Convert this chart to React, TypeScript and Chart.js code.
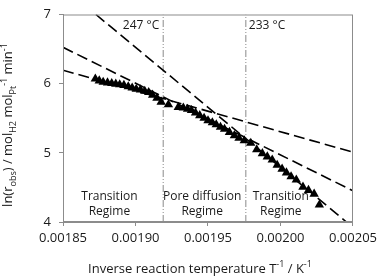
import React, { useEffect, useRef } from 'react';
import { Chart, registerables } from 'chart.js';

Chart.register(...registerables);

// Measured data: inverse temperature (1/K) and ln(r_obs)
const invT = [
  0.0018723, 0.001875, 0.0018777, 0.0018807, 0.0018836, 0.0018864, 0.0018891, 0.001892,
  0.001895, 0.0018977, 0.0019005, 0.0019034, 0.0019064, 0.0019091, 0.0019118, 0.0019148,
  0.0019177, 0.0019227, 0.0019295, 0.001933, 0.0019359, 0.0019386, 0.0019414, 0.0019443,
  0.0019473, 0.00195, 0.001953, 0.0019557, 0.0019586, 0.0019614, 0.0019648, 0.0019682,
  0.0019714, 0.001975, 0.0019795, 0.0019836, 0.0019875, 0.0019909, 0.0019943, 0.0019977,
  0.0020011, 0.0020041, 0.0020073, 0.0020109, 0.0020155, 0.0020193, 0.0020232, 0.0020268,
];
const lnRate = [
  6.07, 6.042, 6.023, 6.014, 6.005, 5.995, 5.986, 5.977,
  5.958, 5.94, 5.921, 5.912, 5.893, 5.874, 5.837, 5.791,
  5.735, 5.698, 5.66, 5.651, 5.633, 5.614, 5.577, 5.54,
  5.502, 5.465, 5.437, 5.409, 5.372, 5.344, 5.298, 5.251,
  5.214, 5.177, 5.14, 5.047, 4.991, 4.944, 4.898, 4.823,
  4.767, 4.712, 4.656, 4.609, 4.507, 4.46, 4.405, 4.247,
];

// Fitted Arrhenius lines (dashed)
const fitSteepX = [0.0018727, 0.0020455];
const fitSteepY = [7, 4];
const fitMidX = [0.00185, 0.00205];
const fitMidY = [6.526, 4.451];
const fitFlatX = [0.00185, 0.00205];
const fitFlatY = [6.195, 5.009];

// Regime boundaries
const boundaryX = [0.0019191, 0.0019761];
const boundaryLabels = ['247 °C', '233 °C'];

// Regime labels
const regimeLines = [
  ['Transition', 'Regime'],
  ['Pore diffusion', 'Regime'],
  ['Transition', 'Regime'],
];
const regimeX = [0.001882, 0.001946, 0.0020002];

const xMin = 0.00185;
const xMax = 0.00205;
const xStep = 0.00005;
const yMin = 4;
const yMax = 7;

const FONT = '"Open Sans", "Liberation Sans", sans-serif';
const TEXT = '#1a1a1a';
const FRAME = '#8c8c8c';

type Seg = { t: string; k?: 'sub' | 'sup' };

function drawRich(ctx: CanvasRenderingContext2D, segs: Seg[], size: number, small: number) {
  let total = 0;
  const widths: number[] = [];
  for (const s of segs) {
    ctx.font = `${s.k ? small : size}px ${FONT}`;
    const w = ctx.measureText(s.t).width;
    widths.push(w);
    total += w;
  }
  let x = -total / 2;
  segs.forEach((s, i) => {
    ctx.font = `${s.k ? small : size}px ${FONT}`;
    const dy = s.k === 'sub' ? size * 0.3 : s.k === 'sup' ? -size * 0.42 : 0;
    ctx.fillText(s.t, x, dy);
    x += widths[i];
  });
}

const yTitle: Seg[] = [
  { t: 'ln(r' }, { t: 'obs', k: 'sub' }, { t: ') / mol' }, { t: 'H2', k: 'sub' },
  { t: ' mol' }, { t: 'Pt', k: 'sub' }, { t: '-1', k: 'sup' }, { t: ' min' }, { t: '-1', k: 'sup' },
];
const xTitle: Seg[] = [
  { t: 'Inverse reaction temperature T' }, { t: '-1', k: 'sup' }, { t: ' / K' }, { t: '-1', k: 'sup' },
];

const decorPlugin = {
  id: 'decor',
  afterDatasetsDraw(chart: any) {
    const { ctx, chartArea, scales } = chart;
    const xs = scales.x;
    const ys = scales.y;
    ctx.save();
    // frame
    ctx.strokeStyle = FRAME;
    ctx.lineWidth = 1;
    ctx.strokeRect(chartArea.left + 0.5, chartArea.top + 0.5, chartArea.right - chartArea.left - 1, chartArea.bottom - chartArea.top - 1);

    ctx.fillStyle = TEXT;
    ctx.textBaseline = 'middle';
    ctx.font = `12px ${FONT}`;
    // boundary labels
    const ly = ys.getPixelForValue(6.847);
    ctx.textAlign = 'right';
    ctx.fillText(boundaryLabels[0], xs.getPixelForValue(boundaryX[0]) - 4, ly);
    ctx.textAlign = 'left';
    ctx.fillText(boundaryLabels[1], xs.getPixelForValue(boundaryX[1]) + 3, ly);

    // regime labels
    ctx.textAlign = 'center';
    regimeLines.forEach((lines, i) => {
      const px = xs.getPixelForValue(regimeX[i]);
      ctx.fillText(lines[0], px, ys.getPixelForValue(4.373));
      ctx.fillText(lines[1], px, ys.getPixelForValue(4.15));
    });

    // axis titles
    ctx.textAlign = 'left';
    ctx.textBaseline = 'alphabetic';
    ctx.save();
    ctx.translate(12, 125);
    ctx.rotate(-Math.PI / 2);
    drawRich(ctx, yTitle, 13, 9);
    ctx.restore();

    ctx.save();
    ctx.translate(200, 272.5);
    drawRich(ctx, xTitle, 13, 9);
    ctx.restore();
    ctx.restore();
  },
};

const pts = (xs: number[], ys: number[]) => xs.map((x, i) => ({ x, y: ys[i] }));

export default function App() {
  const ref = useRef<HTMLCanvasElement>(null);
  useEffect(() => {
    if (!ref.current) return;
    const dashed = (xs: number[], ys: number[]) => ({
      data: pts(xs, ys),
      showLine: true,
      borderColor: '#000',
      borderWidth: 1.6,
      borderDash: [11, 5],
      pointRadius: 0,
      fill: false,
    });
    const vline = (x: number) => ({
      data: [{ x, y: yMin }, { x, y: yMax }],
      showLine: true,
      borderColor: '#8a8a8a',
      borderWidth: 1,
      borderDash: [7, 2, 1, 2, 1, 2],
      pointRadius: 0,
      fill: false,
    });
    const chart = new Chart(ref.current, {
      type: 'scatter',
      data: {
        datasets: [
          {
            data: pts(invT, lnRate),
            pointStyle: 'triangle',
            pointRadius: 5.4,
            backgroundColor: '#000',
            borderColor: '#000',
            borderWidth: 0,
            showLine: false,
          },
          dashed(fitSteepX, fitSteepY),
          dashed(fitMidX, fitMidY),
          dashed(fitFlatX, fitFlatY),
          vline(boundaryX[0]),
          vline(boundaryX[1]),
        ] as any,
      },
      options: {
        responsive: false,
        animation: false,
        devicePixelRatio: 1,
        layout: { padding: { left: 0, right: 25, top: 0, bottom: 0 } },
        plugins: { legend: { display: false }, tooltip: { enabled: false } },
        scales: {
          x: {
            type: 'linear',
            min: xMin,
            max: xMax,
            afterFit: (s: any) => { s.height = 56; },
            ticks: {
              stepSize: xStep,
              color: TEXT,
              font: { family: FONT, size: 13 },
              padding: 4,
              maxRotation: 0,
              callback: (v: any) => Number(v).toFixed(5),
            },
            grid: { drawOnChartArea: false, tickLength: 4, color: FRAME },
            border: { color: FRAME },
          },
          y: {
            type: 'linear',
            min: yMin,
            max: yMax,
            afterFit: (s: any) => { s.width = 63; },
            ticks: {
              stepSize: 1,
              color: TEXT,
              font: { family: FONT, size: 13, lineHeight: 1 },
              padding: 8,
            },
            grid: { drawOnChartArea: false, tickLength: 4, color: FRAME },
            border: { color: FRAME },
          },
        },
      },
      plugins: [decorPlugin],
    });
    return () => chart.destroy();
  }, []);
  return (
    <div style={{ position: 'absolute', left: 0, top: 0, width: 381, height: 278, background: '#fff' }}>
      <canvas ref={ref} width={381} height={278} />
    </div>
  );
}
